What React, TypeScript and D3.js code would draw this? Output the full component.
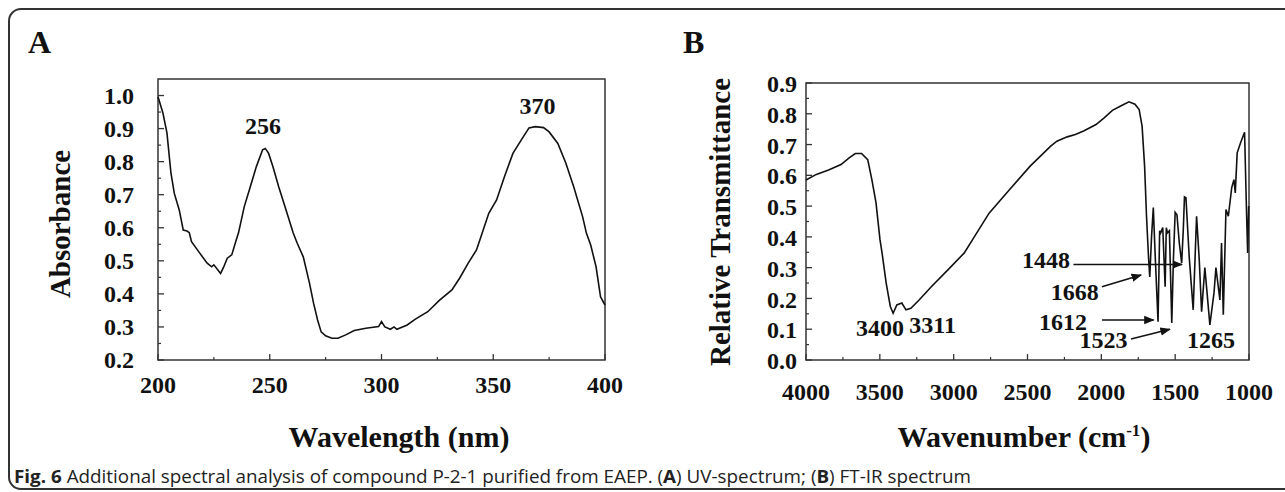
import React from "react";
import * as d3 from "d3";

// UV spectrum (panel A)
const uvWavelength = [
  200, 202.2, 204, 205.8, 207.3, 209.5, 211.3, 213, 214, 215, 218.6, 222, 224, 225, 228, 229.3, 231, 233, 235,
  236, 238.6, 241.3, 244, 246.8, 248, 249.5, 251.4, 254, 256.8, 260.5, 262.3, 265, 267.8, 269.6, 271.4, 273,
  275, 277.8, 280.5, 284, 287.8, 293, 298.7, 300, 301.5, 304, 305.6, 306.9, 311.5, 315, 320.7, 326, 331.5, 335,
  338.8, 342.5, 344, 348, 351.5, 355, 358.8, 362.5, 366, 368.8, 372.5, 375, 378.9, 382.5, 386, 390, 391.7,
  393.6, 396, 398, 398.9, 400,
];
const uvAbsorbance = [
  0.996, 0.947, 0.887, 0.765, 0.704, 0.654, 0.593, 0.59, 0.585, 0.558, 0.524, 0.493, 0.482, 0.488, 0.462, 0.48,
  0.508, 0.518, 0.563, 0.584, 0.664, 0.724, 0.785, 0.836, 0.84, 0.825, 0.785, 0.724, 0.664, 0.584, 0.553, 0.512,
  0.432, 0.372, 0.321, 0.285, 0.273, 0.266, 0.266, 0.276, 0.289, 0.296, 0.301, 0.316, 0.3, 0.293, 0.3, 0.293,
  0.306, 0.323, 0.346, 0.381, 0.412, 0.448, 0.493, 0.533, 0.563, 0.644, 0.684, 0.754, 0.825, 0.865, 0.902, 0.906,
  0.903, 0.89, 0.855, 0.795, 0.724, 0.633, 0.583, 0.548, 0.482, 0.391, 0.38, 0.366,
];
const uvXTicks = [200, 250, 300, 350, 400];
const uvYTicks = [0.2, 0.3, 0.4, 0.5, 0.6, 0.7, 0.8, 0.9, 1.0];
const uvPeaks = [
  { label: "256", x: 247, y: 0.908 },
  { label: "370", x: 369.8, y: 0.971 },
];

// FT-IR spectrum (panel B)
const irWavenumber = [
  4000, 3930, 3847, 3763, 3708, 3666, 3624, 3582, 3554, 3526, 3499, 3485, 3457, 3429, 3410, 3385, 3351, 3323,
  3290, 3234, 3150, 3039, 2928, 2872, 2760, 2621, 2482, 2343, 2301, 2231, 2176, 2120, 2036, 1981, 1925, 1869,
  1813, 1772, 1744, 1724, 1707, 1694, 1680, 1672, 1660, 1648, 1636, 1616, 1605, 1598, 1584, 1568, 1560, 1552,
  1539, 1523, 1512, 1500, 1488, 1472, 1456, 1445, 1437, 1427, 1405, 1378, 1355, 1337, 1321, 1299, 1265, 1237,
  1224, 1197, 1186, 1174, 1156, 1140, 1117, 1102, 1093, 1080, 1057, 1030, 1016, 1009, 1002,
];
const irTransmittance = [
  0.585, 0.603, 0.617, 0.635, 0.657, 0.671, 0.671, 0.651, 0.586, 0.511, 0.391, 0.348, 0.25, 0.174, 0.152, 0.179,
  0.185, 0.163, 0.168, 0.195, 0.239, 0.293, 0.348, 0.391, 0.477, 0.554, 0.63, 0.695, 0.711, 0.725, 0.733, 0.744,
  0.765, 0.787, 0.811, 0.825, 0.839, 0.831, 0.814, 0.76, 0.63, 0.467, 0.33, 0.27, 0.4, 0.495, 0.348, 0.124,
  0.42, 0.413, 0.43, 0.238, 0.43, 0.413, 0.42, 0.12, 0.326, 0.48, 0.472, 0.38, 0.315, 0.423, 0.53, 0.527,
  0.336, 0.163, 0.467, 0.326, 0.157, 0.3, 0.114, 0.218, 0.3, 0.195, 0.38, 0.147, 0.489, 0.467, 0.56, 0.586,
  0.543, 0.673, 0.706, 0.74, 0.467, 0.348, 0.5,
];
const irXTicks = [4000, 3500, 3000, 2500, 2000, 1500, 1000];
const irYTicks = [0, 0.1, 0.2, 0.3, 0.4, 0.5, 0.6, 0.7, 0.8, 0.9];
// text position + optional arrow (in data units)
const irNotes = [
  { label: "3400", x: 3499, y: 0.104 },
  { label: "3311", x: 3143, y: 0.114 },
  { label: "1448", x: 2375, y: 0.325, arrow: [2189, 0.31, 1454, 0.31] },
  { label: "1668", x: 2180, y: 0.222, arrow: [1996, 0.238, 1731, 0.276] },
  { label: "1612", x: 2260, y: 0.124, arrow: [1996, 0.13, 1646, 0.13] },
  { label: "1523", x: 1986, y: 0.065, arrow: [1799, 0.068, 1536, 0.1] },
  { label: "1265", x: 1257, y: 0.065 },
];

const SERIF = "'Liberation Serif', 'Times New Roman', serif";
const INK = "#111";

function fmt1(v: number) {
  return v.toFixed(1);
}

export default function App() {
  // panel A scales
  const ax = d3.scaleLinear().domain([200, 400]).range([158, 605]);
  const ay = d3.scaleLinear().domain([0.2, 1.05]).range([360, 79]);
  // panel B scales
  const bx = d3.scaleLinear().domain([4000, 1000]).range([806, 1249]);
  const by = d3.scaleLinear().domain([0, 0.9]).range([360, 83]);

  const uvLine = d3
    .line<number>()
    .x((d) => ax(d))
    .y((_, i) => ay(uvAbsorbance[i]))(uvWavelength);
  const irLine = d3
    .line<number>()
    .x((d) => bx(d))
    .y((_, i) => by(irTransmittance[i]))(irWavenumber);

  const uvMinorX = d3.range(225, 400, 50);
  const uvMinorY = d3.range(0.25, 1.05, 0.1);
  const irMinorX = d3.range(3750, 1000, -500);
  const irMinorY = d3.range(0.05, 0.9, 0.1);

  return (
    <svg
      width={1285}
      height={492}
      style={{ position: "absolute", left: 0, top: 0, background: "#fff" }}
    >
      <defs>
        <marker id="arr" viewBox="0 0 10 10" refX="9" refY="5" markerWidth="7" markerHeight="7" orient="auto">
          <path d="M0,1 L10,5 L0,9 z" fill={INK} />
        </marker>
      </defs>

      {/* outer rounded frame */}
      <rect x={9} y={9} width={1300} height={480} rx={12} fill="none" stroke="#333" strokeWidth={2} />

      {/* ---------- Panel A ---------- */}
      <text x={28} y={53} fontFamily={SERIF} fontWeight="bold" fontSize={32} fill={INK}>A</text>
      <rect x={158} y={79} width={447} height={281} fill="none" stroke="#333" strokeWidth={1.5} />
      {uvXTicks.map((t) => (
        <g key={"ax" + t}>
          <line x1={ax(t)} x2={ax(t)} y1={360} y2={354} stroke="#333" strokeWidth={1.3} />
          <text x={ax(t)} y={393} textAnchor="middle" fontFamily={SERIF} fontWeight="bold" fontSize={24} fill={INK}>
            {t}
          </text>
        </g>
      ))}
      {uvMinorX.map((t) => (
        <line key={"amx" + t} x1={ax(t)} x2={ax(t)} y1={360} y2={357} stroke="#333" strokeWidth={1.2} />
      ))}
      {uvYTicks.map((t) => (
        <g key={"ay" + t}>
          <line x1={158} x2={164} y1={ay(t)} y2={ay(t)} stroke="#333" strokeWidth={1.3} />
          <text x={134} y={ay(t)} dy="0.35em" textAnchor="end" fontFamily={SERIF} fontWeight="bold" fontSize={24} fill={INK}>
            {fmt1(t)}
          </text>
        </g>
      ))}
      {uvMinorY.map((t) => (
        <line key={"amy" + t} x1={158} x2={161} y1={ay(t)} y2={ay(t)} stroke="#333" strokeWidth={1.2} />
      ))}
      <path d={uvLine ?? ""} fill="none" stroke={INK} strokeWidth={1.6} />
      {uvPeaks.map((p) => (
        <text key={p.label} x={ax(p.x)} y={ay(p.y)} dy="0.35em" textAnchor="middle" fontFamily={SERIF} fontWeight="bold" fontSize={24} fill={INK}>
          {p.label}
        </text>
      ))}
      <text
        transform="translate(70,224) rotate(-90)"
        textAnchor="middle"
        fontFamily={SERIF}
        fontWeight="bold"
        fontSize={29}
        fill={INK}
      >
        Absorbance
      </text>
      <text x={399} y={447} textAnchor="middle" fontFamily={SERIF} fontWeight="bold" fontSize={30} fill={INK}>
        Wavelength (nm)
      </text>

      {/* ---------- Panel B ---------- */}
      <text x={683} y={53} fontFamily={SERIF} fontWeight="bold" fontSize={32} fill={INK}>B</text>
      <rect x={806} y={83} width={443} height={277} fill="none" stroke="#333" strokeWidth={1.5} />
      {irXTicks.map((t) => (
        <g key={"bx" + t}>
          <line x1={bx(t)} x2={bx(t)} y1={360} y2={354} stroke="#333" strokeWidth={1.3} />
          <text x={bx(t)} y={400} textAnchor="middle" fontFamily={SERIF} fontWeight="bold" fontSize={24} fill={INK}>
            {t}
          </text>
        </g>
      ))}
      {irMinorX.map((t) => (
        <line key={"bmx" + t} x1={bx(t)} x2={bx(t)} y1={360} y2={357} stroke="#333" strokeWidth={1.2} />
      ))}
      {irYTicks.map((t) => (
        <g key={"by" + t}>
          <line x1={806} x2={812} y1={by(t)} y2={by(t)} stroke="#333" strokeWidth={1.3} />
          <text x={797} y={by(t)} dy="0.38em" textAnchor="end" fontFamily={SERIF} fontWeight="bold" fontSize={24} fill={INK}>
            {fmt1(t)}
          </text>
        </g>
      ))}
      {irMinorY.map((t) => (
        <line key={"bmy" + t} x1={806} x2={809} y1={by(t)} y2={by(t)} stroke="#333" strokeWidth={1.2} />
      ))}
      <path d={irLine ?? ""} fill="none" stroke={INK} strokeWidth={1.6} />
      {irNotes.map((n) => (
        <g key={n.label}>
          <text x={bx(n.x)} y={by(n.y)} dy="0.35em" textAnchor="middle" fontFamily={SERIF} fontWeight="bold" fontSize={24} fill={INK}>
            {n.label}
          </text>
          {n.arrow && (
            <line
              x1={bx(n.arrow[0])}
              y1={by(n.arrow[1])}
              x2={bx(n.arrow[2])}
              y2={by(n.arrow[3])}
              stroke={INK}
              strokeWidth={1.5}
              markerEnd="url(#arr)"
            />
          )}
        </g>
      ))}
      <text
        transform="translate(730,222) rotate(-90)"
        textAnchor="middle"
        fontFamily={SERIF}
        fontWeight="bold"
        fontSize={29}
        fill={INK}
      >
        Relative Transmittance
      </text>
      <text x={1024} y={447} textAnchor="middle" fontFamily={SERIF} fontWeight="bold" fontSize={30} fill={INK}>
        Wavenumber (cm<tspan dy={-11} fontSize={17}>-1</tspan><tspan dy={11}>)</tspan>
      </text>

      {/* caption */}
      <text
        x={14}
        y={483}
        textLength={957}
        lengthAdjust="spacingAndGlyphs"
        fontFamily="'Open Sans', 'Noto Sans', sans-serif"
        fontSize={17.5}
        fill="#222"
      >
        <tspan fontWeight="bold">Fig. 6</tspan> Additional spectral analysis of compound P-2-1 purified from EAEP. (
        <tspan fontWeight="bold">A</tspan>) UV-spectrum; (<tspan fontWeight="bold">B</tspan>) FT-IR spectrum
      </text>
    </svg>
  );
}
